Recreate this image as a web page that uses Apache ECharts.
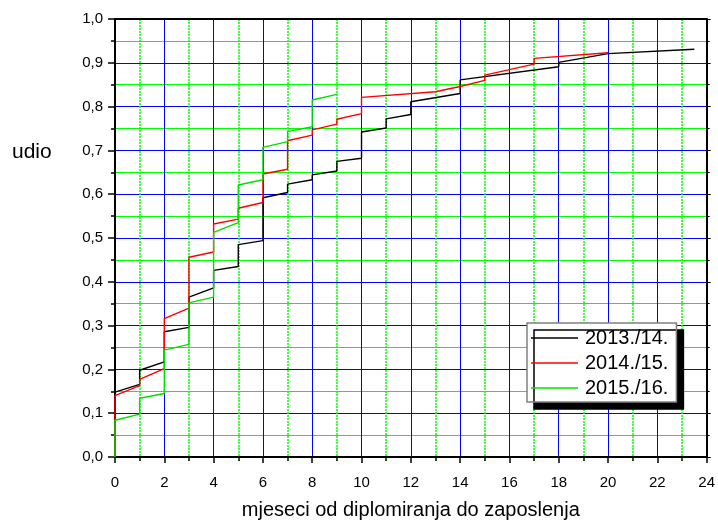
<!DOCTYPE html>
<html>
<head>
<meta charset="utf-8">
<script src="https://cdn.jsdelivr.net/npm/echarts@6/dist/echarts.min.js"></script>
<style>
html, body { margin: 0; padding: 0; background: #fff; }
#chart { width: 718px; height: 525px; }
</style>
</head>
<body>
<div id="chart"></div>
<script>
// share employed vs. months since graduation, one step line per generation
const seriesNames = ['2013./14.', '2014./15.', '2015./16.']

const months13 = [0, 0, 1, 1, 2, 2, 3, 3, 4, 4, 5, 5, 6, 6, 7, 7, 8, 8, 9, 9, 10, 10, 11, 11, 12, 12, 14, 14, 18, 18, 20, 23.5]
const share13 = [0, 0.148, 0.166, 0.198, 0.217, 0.286, 0.296, 0.365, 0.386, 0.426, 0.435, 0.485, 0.494, 0.592,
    0.604, 0.623, 0.633, 0.644, 0.653, 0.675, 0.682, 0.742, 0.751, 0.772, 0.782, 0.811, 0.830, 0.861,
    0.891, 0.901, 0.921, 0.931]

const months14 = [0, 0, 1, 1, 2, 2, 3, 3, 4, 4, 5, 5, 6, 6, 7, 7, 8, 8, 9, 9, 10, 10, 13, 14, 15, 15, 17, 17, 20]
const share14 = [0, 0.140, 0.163, 0.177, 0.202, 0.316, 0.340, 0.456, 0.468, 0.532, 0.543, 0.568, 0.581, 0.646,
    0.657, 0.722, 0.735, 0.747, 0.760, 0.771, 0.784, 0.821, 0.834, 0.846, 0.860, 0.872, 0.897, 0.910, 0.923]

const months15 = [0, 0, 1, 1, 2, 2, 3, 3, 4, 4, 5, 5, 6, 6, 7, 7, 8, 8, 9]
const share15 = [0, 0.084, 0.098, 0.134, 0.145, 0.244, 0.257, 0.352, 0.365, 0.513, 0.535, 0.621, 0.633, 0.707,
    0.720, 0.743, 0.754, 0.815, 0.828]

const lineColors = ['#000000', '#ff0000', '#00e000']

function pairs(xs, ys) {
    return xs.map((x, i) => [x, ys[i]])
}

const chart = echarts.init(document.getElementById('chart'))
const font = 'Liberation Sans, Arial, sans-serif'

let option = {
    animation: false,
    textStyle: { fontFamily: font },
    grid: { left: 115, right: 10, top: 19, bottom: 67.5 },
    graphic: [
        {
            type: 'text',
            left: 12,
            top: 142,
            style: { text: 'udio', fontSize: 21, fontFamily: font, fill: '#000' }
        }
    ],
    legend: {
        orient: 'vertical',
        left: 527,
        top: 323,
        padding: [5, 8, 4, 4],
        icon: 'rect',
        itemWidth: 47,
        itemHeight: 1.5,
        itemGap: 5,
        backgroundColor: '#fff',
        borderColor: '#808080',
        borderWidth: 1.5,
        borderRadius: 0,
        shadowColor: '#000',
        shadowBlur: 0,
        shadowOffsetX: 7,
        shadowOffsetY: 7,
        textStyle: { fontSize: 20, fontFamily: font, color: '#000', padding: [0, 0, 0, 2] },
        data: seriesNames
    },
    xAxis: [
        {
            type: 'value',
            min: 0,
            max: 24,
            interval: 2,
            name: 'mjeseci od diplomiranja do zaposlenja',
            nameLocation: 'middle',
            nameGap: 43,
            nameTextStyle: { fontSize: 20, color: '#000', fontFamily: font },
            axisLine: { onZero: false, lineStyle: { color: '#000', width: 2 } },
            axisTick: { show: true, inside: false, length: 6, lineStyle: { color: '#000', width: 1.5 } },
            minorTick: { show: true, splitNumber: 2, length: 4, lineStyle: { color: '#000', width: 1.5 } },
            axisLabel: { fontSize: 15, color: '#000', margin: 18 },
            splitLine: { show: true, lineStyle: { color: '#0000ff', width: 1 } },
            minorSplitLine: { show: true, lineStyle: { color: '#00ff00', width: 1.5, type: [2, 1] } }
        },
        {
            type: 'value',
            position: 'top',
            min: 0,
            max: 24,
            interval: 2,
            axisLine: { show: true, onZero: false, lineStyle: { color: '#000', width: 2 } },
            axisTick: { show: false },
            axisLabel: { show: false },
            splitLine: { show: false }
        }
    ],
    yAxis: [
        {
            type: 'value',
            min: 0,
            max: 1,
            interval: 0.1,
            axisLine: { show: true, onZero: false, lineStyle: { color: '#000', width: 2 } },
            axisTick: { show: true, inside: false, length: 7, lineStyle: { color: '#000', width: 1.5 } },
            minorTick: { show: true, splitNumber: 2, length: 4, lineStyle: { color: '#000', width: 1.5 } },
            axisLabel: {
                fontSize: 15,
                color: '#000',
                margin: 12,
                formatter: v => v.toFixed(1).replace('.', ',')
            },
            splitLine: { show: true, lineStyle: { color: '#0000ff', width: 1 } },
            minorSplitLine: { show: true, lineStyle: { color: '#00ff00', width: 1 } }
        },
        {
            type: 'value',
            position: 'right',
            min: 0,
            max: 1,
            interval: 0.1,
            axisLine: { show: true, onZero: false, lineStyle: { color: '#000', width: 2 } },
            axisTick: { show: true, inside: false, length: 4, lineStyle: { color: '#000', width: 1 } },
            minorTick: { show: true, splitNumber: 2, length: 3, lineStyle: { color: '#000', width: 1 } },
            axisLabel: { show: false },
            splitLine: { show: false }
        }
    ],
    series: [
        { name: seriesNames[0], data: pairs(months13, share13) },
        { name: seriesNames[1], data: pairs(months14, share14) },
        { name: seriesNames[2], data: pairs(months15, share15) }
    ].map((s, i) => ({
        ...s,
        type: 'line',
        symbol: 'none',
        z: 3 + i,
        color: lineColors[i],
        lineStyle: { color: lineColors[i], width: 1.4 }
    }))
}

chart.setOption(option)
</script>
</body>
</html>
